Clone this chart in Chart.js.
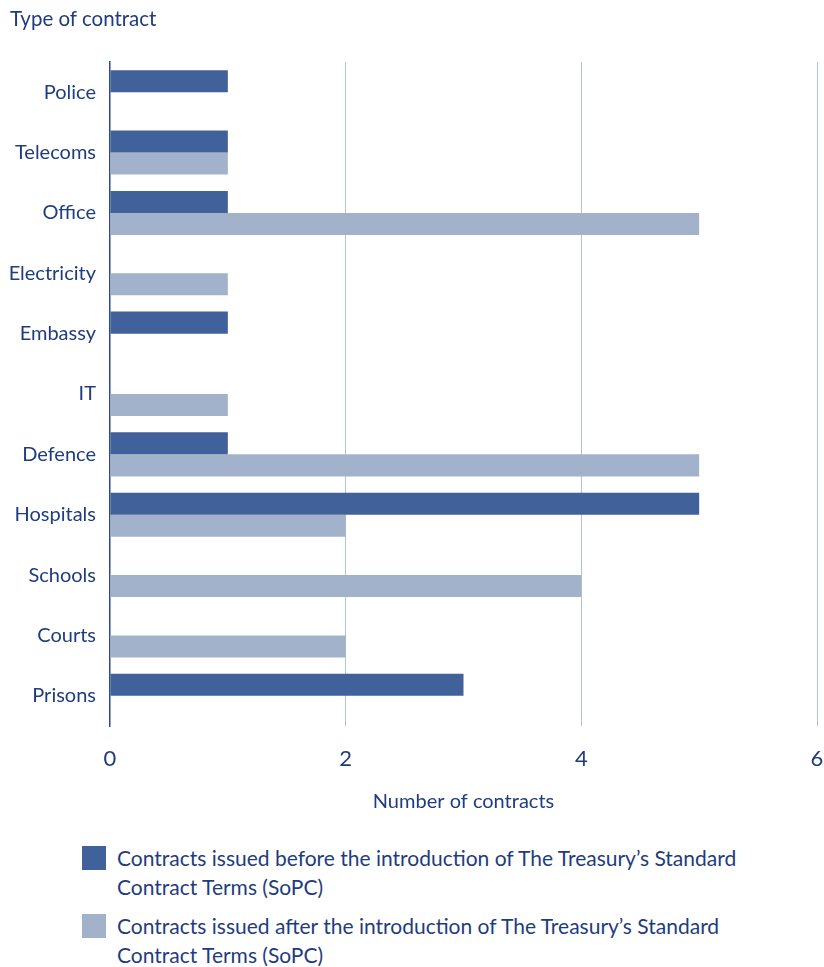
<!DOCTYPE html>
<html>
<head>
<meta charset="utf-8">
<script src="https://cdn.jsdelivr.net/npm/chart.js@4"></script>
<style>
  body { margin: 0; background: #fff; font-family: Lato, sans-serif; color: #1f3c80; }
  #wrap { position: relative; width: 824px; height: 967px; }
  #top_title { position: absolute; left: 10px; top: 6px; font-size: 20.5px; }
  #legend { position: absolute; left: 82px; top: 843px; font-size: 21px; line-height: 29px; }
  .item { display: flex; margin-bottom: 10px; }
  .box { width: 24px; height: 24px; margin-top: 3px; margin-right: 11px; flex: none; }
</style>
</head>
<body>
<div id="wrap">
  <canvas id="bar_chart" width="824" height="818"></canvas>
  <div id="top_title">Type of contract</div>
  <div id="legend">
    <div class="item"><div class="box" style="background:#41619a"></div><div>Contracts issued before the introduction of The Treasury’s Standard<br>Contract Terms (SoPC)</div></div>
    <div class="item"><div class="box" style="background:#a2b2cb"></div><div>Contracts issued after the introduction of The Treasury’s Standard<br>Contract Terms (SoPC)</div></div>
  </div>
</div>
<script>
// Categories, top to bottom
let categories = ['Police', 'Telecoms', 'Office', 'Electricity', 'Embassy', 'IT', 'Defence', 'Hospitals', 'Schools', 'Courts', 'Prisons']
// Number of contracts per type
let before_sopc = [1, 1, 1, 0, 1, 0, 1, 5, 0, 0, 3]
let after_sopc = [0, 1, 5, 1, 0, 1, 5, 2, 4, 2, 0]
let x_ticks = [0, 2, 4, 6]

let dark = '#41619a'
let light = '#a2b2cb'
let text_color = '#1f3c80'

let ctx = document.getElementById('bar_chart')
new Chart(ctx, {
  type: 'bar',
  data: {
    labels: categories,
    datasets: [
      { label: 'Before SoPC', data: before_sopc, backgroundColor: dark },
      { label: 'After SoPC', data: after_sopc, backgroundColor: light }
    ]
  },
  options: {
    indexAxis: 'y',
    responsive: false,
    animation: false,
    categoryPercentage: 0.73,
    barPercentage: 1,
    layout: { padding: { top: 62, right: 0, left: 0, bottom: 0 } },
    plugins: { legend: { display: false }, tooltip: { enabled: false } },
    scales: {
      x: {
        min: 0,
        max: 6,
        afterBuildTicks: s => { s.ticks = x_ticks.map(v => ({ value: v })) },
        grid: { color: c => c.tick.value === 0 ? 'rgba(0,0,0,0)' : '#b4c2d9', lineWidth: 1, drawTicks: false },
        border: { display: false },
        ticks: { color: text_color, font: { family: 'Lato', size: 22 }, padding: 20 },
        title: { display: true, text: 'Number of contracts', color: text_color, font: { family: 'Lato', size: 20 }, padding: { top: 6, bottom: 4 } },
        afterFit: s => { s.height = 92; s.paddingRight = 7; s.paddingLeft = 0 }
      },
      y: {
        grid: { display: false, drawTicks: false },
        border: { display: true, color: '#2b4b8c', width: 1.5 },
        ticks: { color: text_color, font: { family: 'Lato', size: 20 }, padding: 14 },
        afterFit: s => { s.width = 110 }
      }
    }
  }
})
</script>
</body>
</html>
